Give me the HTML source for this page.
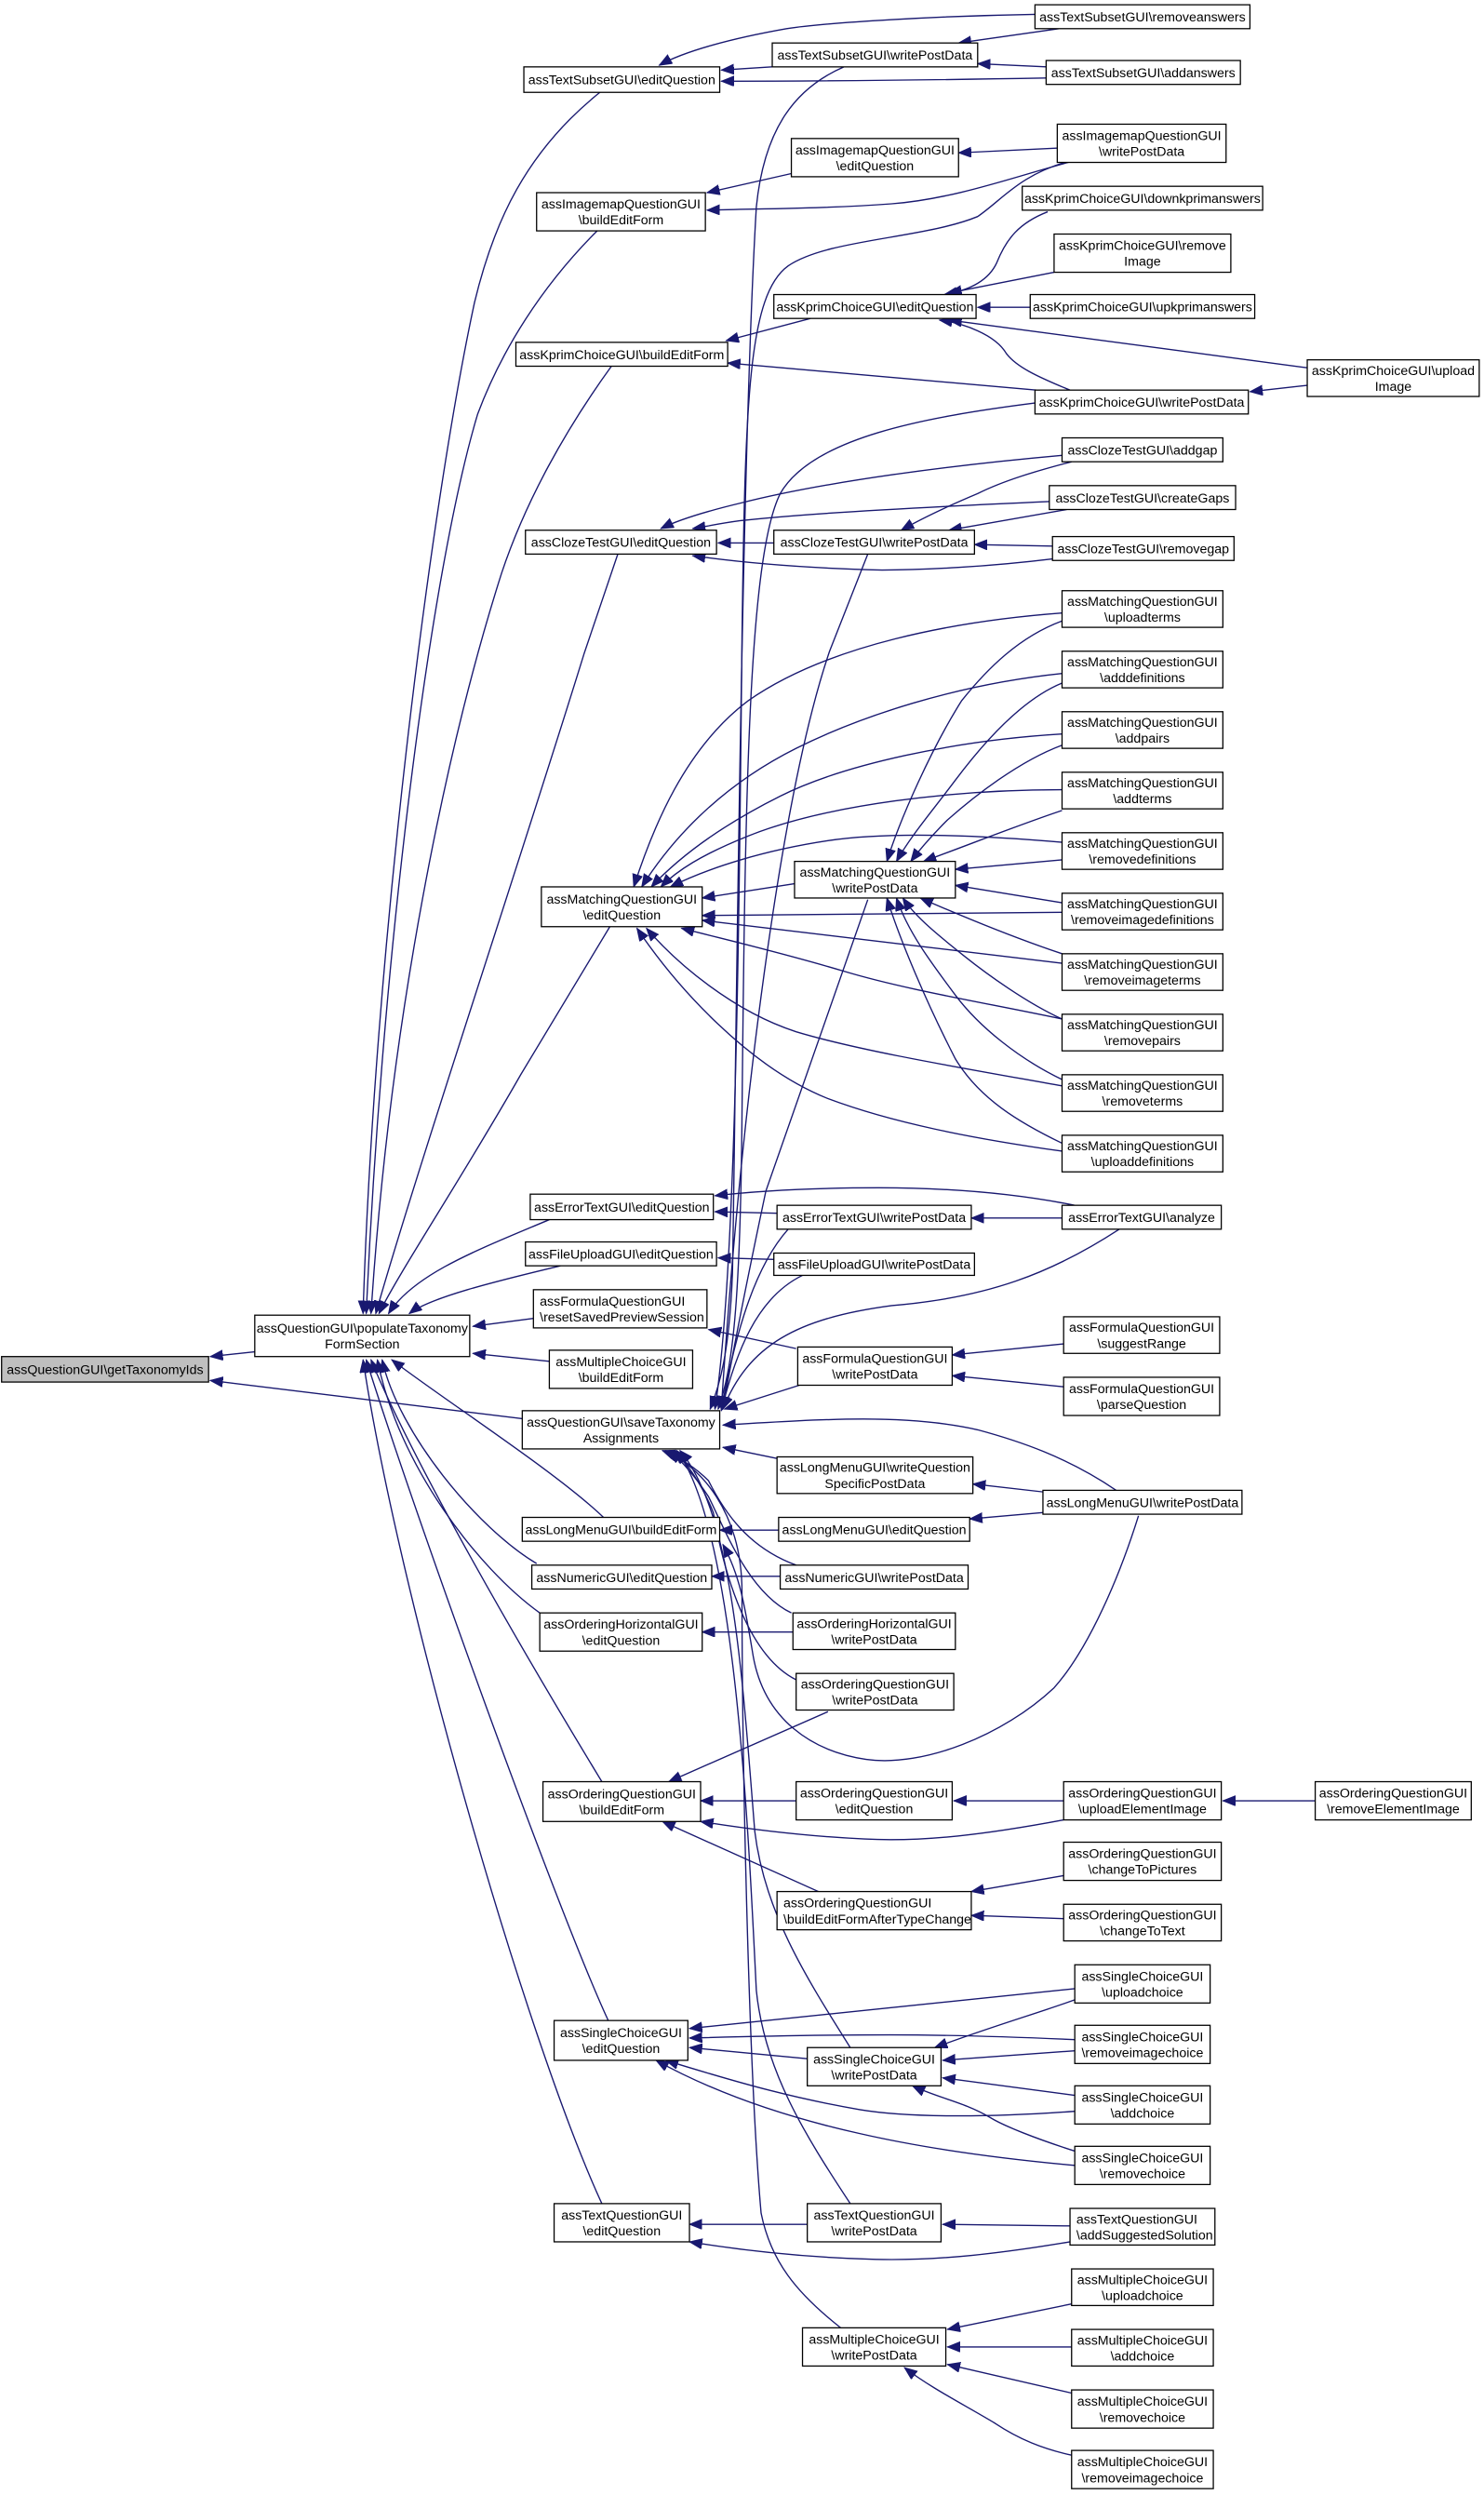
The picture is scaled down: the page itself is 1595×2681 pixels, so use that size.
<!DOCTYPE html>
<html><head><meta charset="utf-8"><style>
html,body{margin:0;padding:0;background:#fff}
svg{display:block}
text{font-family:"Liberation Sans",Arial,sans-serif;font-size:8.3px;fill:#000}
.n{fill:#fff;stroke:#000;stroke-width:0.75}
.e{fill:none;stroke:#191970;stroke-width:0.8}
</style></head><body>
<svg width="1595" height="2681" viewBox="0 0 932 1567" preserveAspectRatio="none" xmlns="http://www.w3.org/2000/svg">
<defs><marker id="a" markerUnits="userSpaceOnUse" markerWidth="9" markerHeight="7" refX="8" refY="3.2" orient="auto"><path d="M0,0 L8,3.2 L0,6.4 z" fill="#191970" stroke="#191970" stroke-width="0.5"/></marker></defs>
<g class="edges" marker-end="url(#a)">
<path class="e" marker-end="url(#a)" d="M160,849 L132,852"/>
<path class="e" marker-end="url(#a)" d="M328,891 L132,867"/>
<path class="e" marker-end="url(#a)" d="M378,57 C330,95 310,140 298,190 C270,320 235,600 228,825"/>
<path class="e" marker-end="url(#a)" d="M375,145 C340,180 315,220 300,260 C270,360 240,600 230,825"/>
<path class="e" marker-end="url(#a)" d="M384,230 C355,270 330,315 315,360 C280,470 245,640 233,825"/>
<path class="e" marker-end="url(#a)" d="M388,348 L367,410 C330,530 260,740 236,825"/>
<path class="e" marker-end="url(#a)" d="M383,582 L327,675 C290,740 250,800 238,825"/>
<path class="e" marker-end="url(#a)" d="M345,766 C300,785 260,800 244,825"/>
<path class="e" marker-end="url(#a)" d="M352,795 C310,805 270,815 257,825"/>
<path class="e" marker-end="url(#a)" d="M335,828 L297,833"/>
<path class="e" marker-end="url(#a)" d="M345,855 L297,850"/>
<path class="e" marker-end="url(#a)" d="M379,953 C350,925 280,880 246,854"/>
<path class="e" marker-end="url(#a)" d="M337,982 C300,960 250,900 240,854"/>
<path class="e" marker-end="url(#a)" d="M339,1013 C300,985 250,920 237,854"/>
<path class="e" marker-end="url(#a)" d="M378,1119 C330,1040 260,920 233,854"/>
<path class="e" marker-end="url(#a)" d="M382,1269 C350,1200 260,950 230,854"/>
<path class="e" marker-end="url(#a)" d="M378,1384 C330,1280 250,1000 228,854"/>
<path class="e" marker-end="url(#a)" d="M530,42 C500,55 480,80 475,130 C465,300 462,700 460,800 C458,850 452,870 446,885"/>
<path class="e" marker-end="url(#a)" d="M672,101 C640,110 630,125 614,136 C580,150 520,150 495,167 C470,185 468,250 466,400 C464,600 462,800 449,885"/>
<path class="e" marker-end="url(#a)" d="M651,253 C580,262 510,275 490,310 C470,350 468,500 466,700 C465,820 460,860 451,885"/>
<path class="e" marker-end="url(#a)" d="M545,348 L521,409 C490,500 465,700 453,885"/>
<path class="e" marker-end="url(#a)" d="M545,565 L481,748 C470,800 460,850 454,885"/>
<path class="e" marker-end="url(#a)" d="M495,772 C470,800 460,850 453,885"/>
<path class="e" marker-end="url(#a)" d="M504,801 C475,815 462,850 453,886"/>
<path class="e" marker-end="url(#a)" d="M502,870 L455,885"/>
<path class="e" marker-end="url(#a)" d="M703,772 C660,800 620,815 560,820 C500,828 470,845 454,885"/>
<path class="e" marker-end="url(#a)" d="M488,916 L454,909"/>
<path class="e" marker-end="url(#a)" d="M701,936 C670,915 640,905 614,898 C570,888 520,891 454,895"/>
<path class="e" marker-end="url(#a)" d="M500,983 C470,972 455,950 445,930 C435,920 425,915 418,911"/>
<path class="e" marker-end="url(#a)" d="M497,1013 C470,1000 455,960 445,940 C435,925 428,918 421,911"/>
<path class="e" marker-end="url(#a)" d="M500,1055 C470,1040 455,990 448,950 C440,930 430,918 424,911"/>
<path class="e" marker-end="url(#a)" d="M534,1286 C505,1240 480,1200 474,1150 C466,1050 460,950 427,911"/>
<path class="e" marker-end="url(#a)" d="M534,1384 C505,1340 480,1300 475,1250 C470,1150 462,960 425,911"/>
<path class="e" marker-end="url(#a)" d="M528,1462 C500,1440 484,1420 478,1390 C470,1300 466,1100 466,1000 C466,950 440,920 416,911"/>
<path class="e" marker-end="url(#a)" d="M650,9 C590,10 520,14 494,18 C460,24 430,32 414,41"/>
<path class="e" marker-end="url(#a)" d="M665,18 L602,27"/>
<path class="e" marker-end="url(#a)" d="M657,42 L614,40"/>
<path class="e" marker-end="url(#a)" d="M657,49 C600,50 520,51 453,51"/>
<path class="e" marker-end="url(#a)" d="M485,42 L453,44"/>
<path class="e" marker-end="url(#a)" d="M497,109 L444,121"/>
<path class="e" marker-end="url(#a)" d="M665,93 L602,96"/>
<path class="e" marker-end="url(#a)" d="M671,102 C640,110 600,125 560,128 C520,131 480,131 444,132"/>
<path class="e" marker-end="url(#a)" d="M658,133 C640,140 632,150 626,165 C620,178 605,183 593,185"/>
<path class="e" marker-end="url(#a)" d="M662,171 L596,184"/>
<path class="e" marker-end="url(#a)" d="M647,193 L614,193"/>
<path class="e" marker-end="url(#a)" d="M821,231 L596,201"/>
<path class="e" marker-end="url(#a)" d="M821,242 L785,246"/>
<path class="e" marker-end="url(#a)" d="M672,245 C650,236 638,230 632,222 C625,210 605,203 590,201"/>
<path class="e" marker-end="url(#a)" d="M509,200 L456,214"/>
<path class="e" marker-end="url(#a)" d="M651,245 L457,228"/>
<path class="e" marker-end="url(#a)" d="M667,286 C600,292 520,302 465,316 C440,322 425,327 415,332"/>
<path class="e" marker-end="url(#a)" d="M659,315 C590,318 510,322 465,327 C450,329 442,331 435,332"/>
<path class="e" marker-end="url(#a)" d="M486,341 L451,341"/>
<path class="e" marker-end="url(#a)" d="M661,351 C620,356 580,358 554,358 C510,357 470,354 435,349"/>
<path class="e" marker-end="url(#a)" d="M673,290 C650,296 630,302 614,310 C595,318 580,325 566,333"/>
<path class="e" marker-end="url(#a)" d="M670,320 L596,333"/>
<path class="e" marker-end="url(#a)" d="M661,343 L612,342"/>
<path class="e" marker-end="url(#a)" d="M667,385 C600,390 520,405 470,440 C430,470 410,520 398,557"/>
<path class="e" marker-end="url(#a)" d="M667,423 C600,430 540,450 500,470 C450,495 420,530 403,557"/>
<path class="e" marker-end="url(#a)" d="M667,461 C600,465 530,480 490,500 C450,520 425,540 409,557"/>
<path class="e" marker-end="url(#a)" d="M667,496 C600,496 520,505 470,525 C440,537 425,547 415,557"/>
<path class="e" marker-end="url(#a)" d="M667,529 C620,525 560,522 520,528 C480,534 445,545 421,557"/>
<path class="e" marker-end="url(#a)" d="M499,555 L441,564"/>
<path class="e" marker-end="url(#a)" d="M667,573 L441,575"/>
<path class="e" marker-end="url(#a)" d="M667,605 L441,578"/>
<path class="e" marker-end="url(#a)" d="M667,640 C620,630 570,622 530,610 C490,598 455,590 428,583"/>
<path class="e" marker-end="url(#a)" d="M667,682 C600,670 540,660 500,648 C460,635 425,605 406,583"/>
<path class="e" marker-end="url(#a)" d="M667,723 C610,715 560,705 520,690 C470,670 425,620 400,583"/>
<path class="e" marker-end="url(#a)" d="M667,390 C640,400 620,420 604,440 C585,470 565,515 557,541"/>
<path class="e" marker-end="url(#a)" d="M667,429 C640,440 615,470 600,490 C585,510 572,525 563,541"/>
<path class="e" marker-end="url(#a)" d="M667,468 C640,478 612,500 595,515 C585,525 578,533 572,541"/>
<path class="e" marker-end="url(#a)" d="M667,509 C640,518 610,530 580,541"/>
<path class="e" marker-end="url(#a)" d="M667,540 L600,546"/>
<path class="e" marker-end="url(#a)" d="M667,567 L600,556"/>
<path class="e" marker-end="url(#a)" d="M667,599 C640,590 610,578 578,564"/>
<path class="e" marker-end="url(#a)" d="M667,640 C645,630 620,612 605,600 C590,588 575,576 567,564"/>
<path class="e" marker-end="url(#a)" d="M667,678 C640,665 615,645 600,625 C585,605 570,585 563,564"/>
<path class="e" marker-end="url(#a)" d="M667,718 C640,705 615,690 600,665 C582,630 565,590 557,564"/>
<path class="e" marker-end="url(#a)" d="M488,762 L449,761"/>
<path class="e" marker-end="url(#a)" d="M675,757 C640,750 600,746 552,746 C510,746 475,748 449,751"/>
<path class="e" marker-end="url(#a)" d="M667,765 L610,765"/>
<path class="e" marker-end="url(#a)" d="M486,791 L451,790"/>
<path class="e" marker-end="url(#a)" d="M500,847 L445,835"/>
<path class="e" marker-end="url(#a)" d="M668,844 L598,851"/>
<path class="e" marker-end="url(#a)" d="M668,871 L598,864"/>
<path class="e" marker-end="url(#a)" d="M655,937 L611,932"/>
<path class="e" marker-end="url(#a)" d="M655,950 L609,954"/>
<path class="e" marker-end="url(#a)" d="M489,961 L452,961"/>
<path class="e" marker-end="url(#a)" d="M715,952 C700,1000 680,1040 662,1060 C630,1090 580,1110 544,1105 C510,1100 480,1080 473,1040 C468,1010 465,990 454,970"/>
<path class="e" marker-end="url(#a)" d="M490,990 L447,990"/>
<path class="e" marker-end="url(#a)" d="M498,1025 L441,1025"/>
<path class="e" marker-end="url(#a)" d="M520,1075 L420,1119"/>
<path class="e" marker-end="url(#a)" d="M500,1131 L440,1131"/>
<path class="e" marker-end="url(#a)" d="M668,1131 L599,1131"/>
<path class="e" marker-end="url(#a)" d="M668,1143 C620,1152 580,1157 543,1155 C500,1153 465,1148 440,1144"/>
<path class="e" marker-end="url(#a)" d="M826,1131 L768,1131"/>
<path class="e" marker-end="url(#a)" d="M514,1188 L416,1144"/>
<path class="e" marker-end="url(#a)" d="M668,1178 L610,1188"/>
<path class="e" marker-end="url(#a)" d="M668,1205 L610,1203"/>
<path class="e" marker-end="url(#a)" d="M675,1249 L433,1274"/>
<path class="e" marker-end="url(#a)" d="M675,1281 C630,1279 590,1278 559,1278 C510,1278 470,1279 433,1280"/>
<path class="e" marker-end="url(#a)" d="M507,1293 L433,1286"/>
<path class="e" marker-end="url(#a)" d="M675,1326 C620,1330 570,1330 540,1325 C500,1318 470,1310 418,1294"/>
<path class="e" marker-end="url(#a)" d="M675,1360 C620,1355 575,1348 540,1340 C495,1330 450,1315 412,1294"/>
<path class="e" marker-end="url(#a)" d="M675,1256 C650,1265 625,1272 587,1286"/>
<path class="e" marker-end="url(#a)" d="M675,1288 L592,1294"/>
<path class="e" marker-end="url(#a)" d="M675,1316 L592,1305"/>
<path class="e" marker-end="url(#a)" d="M675,1351 C650,1343 630,1335 622,1330 C605,1320 590,1318 573,1310"/>
<path class="e" marker-end="url(#a)" d="M507,1397 L433,1397"/>
<path class="e" marker-end="url(#a)" d="M672,1398 L592,1397"/>
<path class="e" marker-end="url(#a)" d="M672,1408 C630,1415 590,1420 550,1419 C510,1418 470,1414 433,1408"/>
<path class="e" marker-end="url(#a)" d="M673,1447 L595,1463"/>
<path class="e" marker-end="url(#a)" d="M673,1474 L595,1474"/>
<path class="e" marker-end="url(#a)" d="M673,1503 L595,1485"/>
<path class="e" marker-end="url(#a)" d="M673,1542 C655,1538 640,1532 625,1522 C605,1510 585,1500 568,1487"/>
</g>
<g>
<rect class="n" x="1" y="852" width="130" height="16" style="fill:#bfbfbf"/><text x="66" y="863" text-anchor="middle">assQuestionGUI\getTaxonomyIds</text>
<rect class="n" x="160" y="826" width="135" height="26"/><text x="227.5" y="837" text-anchor="middle">assQuestionGUI\populateTaxonomy</text><text x="227.5" y="847" text-anchor="middle">FormSection</text>

<rect class="n" x="329" y="42" width="123" height="16"/><text x="390.5" y="53" text-anchor="middle">assTextSubsetGUI\editQuestion</text>
<rect class="n" x="337" y="121" width="106" height="24"/><text x="390" y="131" text-anchor="middle">assImagemapQuestionGUI</text><text x="390" y="141" text-anchor="middle">\buildEditForm</text>
<rect class="n" x="324" y="215" width="133" height="15"/><text x="390.5" y="225.5" text-anchor="middle">assKprimChoiceGUI\buildEditForm</text>
<rect class="n" x="330" y="333" width="120" height="15"/><text x="390" y="343.5" text-anchor="middle">assClozeTestGUI\editQuestion</text>
<rect class="n" x="340" y="557" width="101" height="25"/><text x="390.5" y="567.5" text-anchor="middle">assMatchingQuestionGUI</text><text x="390.5" y="577.5" text-anchor="middle">\editQuestion</text>
<rect class="n" x="333" y="750" width="115" height="16"/><text x="390.5" y="761" text-anchor="middle">assErrorTextGUI\editQuestion</text>
<rect class="n" x="330" y="780" width="120" height="15"/><text x="390" y="790.5" text-anchor="middle">assFileUploadGUI\editQuestion</text>
<rect class="n" x="335" y="810" width="109" height="24"/><text x="339" y="820">assFormulaQuestionGUI</text><text x="339" y="830">\resetSavedPreviewSession</text>
<rect class="n" x="345" y="848" width="90" height="24"/><text x="390" y="858" text-anchor="middle">assMultipleChoiceGUI</text><text x="390" y="868" text-anchor="middle">\buildEditForm</text>
<rect class="n" x="328" y="886" width="124" height="24"/><text x="390" y="896" text-anchor="middle">assQuestionGUI\saveTaxonomy</text><text x="390" y="906" text-anchor="middle">Assignments</text>
<rect class="n" x="328" y="953" width="124" height="15"/><text x="390" y="963.5" text-anchor="middle">assLongMenuGUI\buildEditForm</text>
<rect class="n" x="334" y="983" width="113" height="15"/><text x="390.5" y="993.5" text-anchor="middle">assNumericGUI\editQuestion</text>
<rect class="n" x="339" y="1013" width="102" height="24"/><text x="390" y="1023" text-anchor="middle">assOrderingHorizontalGUI</text><text x="390" y="1033" text-anchor="middle">\editQuestion</text>
<rect class="n" x="341" y="1119" width="99" height="25"/><text x="390.5" y="1129.5" text-anchor="middle">assOrderingQuestionGUI</text><text x="390.5" y="1139.5" text-anchor="middle">\buildEditForm</text>
<rect class="n" x="348" y="1269" width="84" height="25"/><text x="390" y="1279.5" text-anchor="middle">assSingleChoiceGUI</text><text x="390" y="1289.5" text-anchor="middle">\editQuestion</text>
<rect class="n" x="348" y="1384" width="85" height="24"/><text x="390.5" y="1394" text-anchor="middle">assTextQuestionGUI</text><text x="390.5" y="1404" text-anchor="middle">\editQuestion</text>

<rect class="n" x="485" y="27" width="129" height="15"/><text x="549.5" y="37.5" text-anchor="middle">assTextSubsetGUI\writePostData</text>
<rect class="n" x="497" y="87" width="105" height="24"/><text x="549.5" y="97" text-anchor="middle">assImagemapQuestionGUI</text><text x="549.5" y="107" text-anchor="middle">\editQuestion</text>
<rect class="n" x="486" y="185" width="127" height="15"/><text x="549.5" y="195.5" text-anchor="middle">assKprimChoiceGUI\editQuestion</text>
<rect class="n" x="486" y="333" width="126" height="15"/><text x="549" y="343.5" text-anchor="middle">assClozeTestGUI\writePostData</text>
<rect class="n" x="499" y="541" width="101" height="23"/><text x="549.5" y="550.5" text-anchor="middle">assMatchingQuestionGUI</text><text x="549.5" y="560.5" text-anchor="middle">\writePostData</text>
<rect class="n" x="488" y="757" width="122" height="15"/><text x="549" y="767.5" text-anchor="middle">assErrorTextGUI\writePostData</text>
<rect class="n" x="486" y="787" width="126" height="14"/><text x="549" y="797" text-anchor="middle">assFileUploadGUI\writePostData</text>
<rect class="n" x="501" y="846" width="97" height="24"/><text x="549.5" y="856" text-anchor="middle">assFormulaQuestionGUI</text><text x="549.5" y="866" text-anchor="middle">\writePostData</text>
<rect class="n" x="488" y="915" width="123" height="23"/><text x="549.5" y="924.5" text-anchor="middle">assLongMenuGUI\writeQuestion</text><text x="549.5" y="934.5" text-anchor="middle">SpecificPostData</text>
<rect class="n" x="489" y="953" width="120" height="15"/><text x="549" y="963.5" text-anchor="middle">assLongMenuGUI\editQuestion</text>
<rect class="n" x="490" y="983" width="118" height="15"/><text x="549" y="993.5" text-anchor="middle">assNumericGUI\writePostData</text>
<rect class="n" x="498" y="1013" width="102" height="23"/><text x="549" y="1022.5" text-anchor="middle">assOrderingHorizontalGUI</text><text x="549" y="1032.5" text-anchor="middle">\writePostData</text>
<rect class="n" x="500" y="1051" width="99" height="23"/><text x="549.5" y="1060.5" text-anchor="middle">assOrderingQuestionGUI</text><text x="549.5" y="1070.5" text-anchor="middle">\writePostData</text>
<rect class="n" x="500" y="1119" width="98" height="24"/><text x="549" y="1129" text-anchor="middle">assOrderingQuestionGUI</text><text x="549" y="1139" text-anchor="middle">\editQuestion</text>
<rect class="n" x="488" y="1188" width="122" height="24"/><text x="492" y="1198">assOrderingQuestionGUI</text><text x="492" y="1208">\buildEditFormAfterTypeChange</text>
<rect class="n" x="507" y="1286" width="84" height="24"/><text x="549" y="1296" text-anchor="middle">assSingleChoiceGUI</text><text x="549" y="1306" text-anchor="middle">\writePostData</text>
<rect class="n" x="507" y="1384" width="84" height="24"/><text x="549" y="1394" text-anchor="middle">assTextQuestionGUI</text><text x="549" y="1404" text-anchor="middle">\writePostData</text>
<rect class="n" x="504" y="1462" width="90" height="24"/><text x="549" y="1472" text-anchor="middle">assMultipleChoiceGUI</text><text x="549" y="1482" text-anchor="middle">\writePostData</text>

<rect class="n" x="650" y="3" width="135" height="15"/><text x="717.5" y="13.5" text-anchor="middle">assTextSubsetGUI\removeanswers</text>
<rect class="n" x="657" y="38" width="122" height="15"/><text x="718" y="48.5" text-anchor="middle">assTextSubsetGUI\addanswers</text>
<rect class="n" x="664" y="78" width="106" height="24"/><text x="717" y="88" text-anchor="middle">assImagemapQuestionGUI</text><text x="717" y="98" text-anchor="middle">\writePostData</text>
<rect class="n" x="642" y="117" width="151" height="15"/><text x="717.5" y="127.5" text-anchor="middle">assKprimChoiceGUI\downkprimanswers</text>
<rect class="n" x="662" y="147" width="111" height="24"/><text x="717.5" y="157" text-anchor="middle">assKprimChoiceGUI\remove</text><text x="717.5" y="167" text-anchor="middle">Image</text>
<rect class="n" x="647" y="185" width="141" height="15"/><text x="717.5" y="195.5" text-anchor="middle">assKprimChoiceGUI\upkprimanswers</text>
<rect class="n" x="650" y="245" width="134" height="15"/><text x="717" y="255.5" text-anchor="middle">assKprimChoiceGUI\writePostData</text>
<rect class="n" x="667" y="275" width="101" height="15"/><text x="717.5" y="285.5" text-anchor="middle">assClozeTestGUI\addgap</text>
<rect class="n" x="659" y="305" width="117" height="15"/><text x="717.5" y="315.5" text-anchor="middle">assClozeTestGUI\createGaps</text>
<rect class="n" x="661" y="337" width="114" height="15"/><text x="718" y="347.5" text-anchor="middle">assClozeTestGUI\removegap</text>

<rect class="n" x="667" y="371" width="101" height="23"/><text x="717.5" y="380.5" text-anchor="middle">assMatchingQuestionGUI</text><text x="717.5" y="390.5" text-anchor="middle">\uploadterms</text>
<rect class="n" x="667" y="409" width="101" height="23"/><text x="717.5" y="418.5" text-anchor="middle">assMatchingQuestionGUI</text><text x="717.5" y="428.5" text-anchor="middle">\adddefinitions</text>
<rect class="n" x="667" y="447" width="101" height="23"/><text x="717.5" y="456.5" text-anchor="middle">assMatchingQuestionGUI</text><text x="717.5" y="466.5" text-anchor="middle">\addpairs</text>
<rect class="n" x="667" y="485" width="101" height="23"/><text x="717.5" y="494.5" text-anchor="middle">assMatchingQuestionGUI</text><text x="717.5" y="504.5" text-anchor="middle">\addterms</text>
<rect class="n" x="667" y="523" width="101" height="23"/><text x="717.5" y="532.5" text-anchor="middle">assMatchingQuestionGUI</text><text x="717.5" y="542.5" text-anchor="middle">\removedefinitions</text>
<rect class="n" x="667" y="561" width="101" height="23"/><text x="717.5" y="570.5" text-anchor="middle">assMatchingQuestionGUI</text><text x="717.5" y="580.5" text-anchor="middle">\removeimagedefinitions</text>
<rect class="n" x="667" y="599" width="101" height="23"/><text x="717.5" y="608.5" text-anchor="middle">assMatchingQuestionGUI</text><text x="717.5" y="618.5" text-anchor="middle">\removeimageterms</text>
<rect class="n" x="667" y="637" width="101" height="23"/><text x="717.5" y="646.5" text-anchor="middle">assMatchingQuestionGUI</text><text x="717.5" y="656.5" text-anchor="middle">\removepairs</text>
<rect class="n" x="667" y="675" width="101" height="23"/><text x="717.5" y="684.5" text-anchor="middle">assMatchingQuestionGUI</text><text x="717.5" y="694.5" text-anchor="middle">\removeterms</text>
<rect class="n" x="667" y="713" width="101" height="23"/><text x="717.5" y="722.5" text-anchor="middle">assMatchingQuestionGUI</text><text x="717.5" y="732.5" text-anchor="middle">\uploaddefinitions</text>

<rect class="n" x="667" y="757" width="100" height="15"/><text x="717" y="767.5" text-anchor="middle">assErrorTextGUI\analyze</text>
<rect class="n" x="668" y="827" width="98" height="23"/><text x="717" y="836.5" text-anchor="middle">assFormulaQuestionGUI</text><text x="717" y="846.5" text-anchor="middle">\suggestRange</text>
<rect class="n" x="668" y="865" width="98" height="24"/><text x="717" y="875" text-anchor="middle">assFormulaQuestionGUI</text><text x="717" y="885" text-anchor="middle">\parseQuestion</text>
<rect class="n" x="655" y="936" width="125" height="15"/><text x="717.5" y="946.5" text-anchor="middle">assLongMenuGUI\writePostData</text>
<rect class="n" x="668" y="1119" width="99" height="24"/><text x="717.5" y="1129" text-anchor="middle">assOrderingQuestionGUI</text><text x="717.5" y="1139" text-anchor="middle">\uploadElementImage</text>
<rect class="n" x="668" y="1157" width="99" height="24"/><text x="717.5" y="1167" text-anchor="middle">assOrderingQuestionGUI</text><text x="717.5" y="1177" text-anchor="middle">\changeToPictures</text>
<rect class="n" x="668" y="1196" width="99" height="23"/><text x="717.5" y="1205.5" text-anchor="middle">assOrderingQuestionGUI</text><text x="717.5" y="1215.5" text-anchor="middle">\changeToText</text>
<rect class="n" x="675" y="1234" width="85" height="24"/><text x="717.5" y="1244" text-anchor="middle">assSingleChoiceGUI</text><text x="717.5" y="1254" text-anchor="middle">\uploadchoice</text>
<rect class="n" x="675" y="1272" width="85" height="24"/><text x="717.5" y="1282" text-anchor="middle">assSingleChoiceGUI</text><text x="717.5" y="1292" text-anchor="middle">\removeimagechoice</text>
<rect class="n" x="675" y="1310" width="85" height="24"/><text x="717.5" y="1320" text-anchor="middle">assSingleChoiceGUI</text><text x="717.5" y="1330" text-anchor="middle">\addchoice</text>
<rect class="n" x="675" y="1348" width="85" height="24"/><text x="717.5" y="1358" text-anchor="middle">assSingleChoiceGUI</text><text x="717.5" y="1368" text-anchor="middle">\removechoice</text>
<rect class="n" x="672" y="1387" width="91" height="23"/><text x="676" y="1396.5">assTextQuestionGUI</text><text x="676" y="1406.5">\addSuggestedSolution</text>
<rect class="n" x="673" y="1425" width="89" height="23"/><text x="717.5" y="1434.5" text-anchor="middle">assMultipleChoiceGUI</text><text x="717.5" y="1444.5" text-anchor="middle">\uploadchoice</text>
<rect class="n" x="673" y="1463" width="89" height="23"/><text x="717.5" y="1472.5" text-anchor="middle">assMultipleChoiceGUI</text><text x="717.5" y="1482.5" text-anchor="middle">\addchoice</text>
<rect class="n" x="673" y="1501" width="89" height="24"/><text x="717.5" y="1511" text-anchor="middle">assMultipleChoiceGUI</text><text x="717.5" y="1521" text-anchor="middle">\removechoice</text>
<rect class="n" x="673" y="1539" width="89" height="24"/><text x="717.5" y="1549" text-anchor="middle">assMultipleChoiceGUI</text><text x="717.5" y="1559" text-anchor="middle">\removeimagechoice</text>

<rect class="n" x="821" y="226" width="108" height="23"/><text x="875" y="235.5" text-anchor="middle">assKprimChoiceGUI\upload</text><text x="875" y="245.5" text-anchor="middle">Image</text>
<rect class="n" x="826" y="1119" width="98" height="24"/><text x="875" y="1129" text-anchor="middle">assOrderingQuestionGUI</text><text x="875" y="1139" text-anchor="middle">\removeElementImage</text>
</g>
</svg>
</body></html>
